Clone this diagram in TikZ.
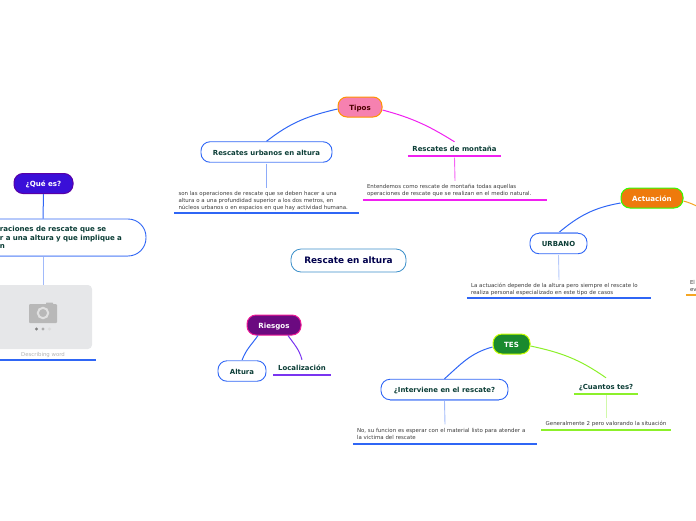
\documentclass[tikz,border=0pt]{standalone}
\usepackage{fontspec}
\setmainfont{DejaVu Sans}
\usetikzlibrary{arrows.meta,positioning,calc}
\definecolor{linkblue}{HTML}{2F66F5}
\definecolor{linkmag}{HTML}{F020F0}
\definecolor{linkorange}{HTML}{F5A623}
\definecolor{linkgreen}{HTML}{8CF02A}
\definecolor{linkpurple}{HTML}{7A35F0}
\definecolor{titleink}{HTML}{0B3D36}
\definecolor{noteink}{HTML}{3A3A3A}
\definecolor{centroline}{HTML}{3B8FC9}
\definecolor{tiposfill}{HTML}{F681B0}
\definecolor{actfill}{HTML}{EE7A0C}
\definecolor{tesfill}{HTML}{1A8A2E}
\definecolor{riesfill}{HTML}{6B0A80}
\definecolor{queesfill}{HTML}{3A0FD8}
\definecolor{fotofill}{HTML}{E6E7E9}

\begin{document}
\begin{tikzpicture}[
    x=1pt, y=-1pt,
    % --- Node styles ---
    central/.style={draw=centroline, line width=0.8pt, rounded corners=10pt, minimum width=115pt,
        minimum height=23pt, inner sep=0pt, text height=7.5pt, text depth=1.5pt, text=blue!30!black,
        font=\fontsize{8.9}{11}\selectfont\bfseries},
    mainbox/.style={draw, line width=1pt, rounded corners=9pt, minimum height=20pt, inner sep=0pt,
        text height=7.5pt, text depth=1.5pt, font=\fontsize{7.1}{9}\selectfont\bfseries},
    subbox/.style={draw=linkblue, line width=0.9pt, rounded corners=9pt, minimum height=20.5pt, inner sep=0pt,
        text height=7.5pt, text depth=1.5pt, text=titleink, font=\fontsize{6.93}{9}\selectfont\bfseries},
    subline/.style={inner sep=0pt, minimum height=15pt, text height=7.5pt, text depth=1.5pt, text=titleink,
        font=\fontsize{6.93}{9}\selectfont\bfseries},
    note/.style={inner sep=0pt, minimum width=184pt, text width=176pt, align=left, text=noteink,
        font=\fontsize{5.45}{7}\selectfont},
    % --- Edge styles ---
    link/.style={line width=1pt},
    stem/.style={line width=0.9pt},
    uline/.style={line width=1.8pt},
    edgelight/.style={line width=1.1pt, linkblue!55},
]
\clip (0,0) rectangle (696,520);

% === Central topic ===
\node[central] (centro) at (348.5,260.5) {Rescate en altura};

% === Tipos ===
\node[mainbox, draw=orange!85!yellow, fill=tiposfill, text=black!50!red!60!black, minimum width=44pt] (tipos) at (360,107) {Tipos};
\node[subbox, minimum width=131pt] (urbanos) at (266.5,152) {Rescates urbanos en altura};
\node[note, minimum height=25pt] (urbanosnota) at (266.5,200.5)
  {son las operaciones de rescate que se deben hacer a una\\
   altura o a una profundidad superior a los dos metros, en\\
   núcleos urbanos o en espacios en que hay actividad humana.};
\node[subline, minimum width=93pt] (montana) at (454.5,148.5) {Rescates de montaña};
\node[note, minimum height=19pt] (montananota) at (455,190.5)
  {Entendemos como rescate de montaña todas aquellas\\
   operaciones de rescate que se realizan en el medio natural.};

\draw[link, linkblue] (tipos.west) ++(0,2) to[out=193,in=38] (urbanos.north);
\draw[link, linkmag] (tipos.east) ++(0,3) to[out=-15,in=148] ($(montana.north)+(0,1)$);
\draw[stem, linkblue!55] (urbanos.south) ++(0,1) -- (urbanosnota.north);
\draw[stem, linkmag!70] (montana.south) ++(0,1.5) -- (montananota.north);
\draw[edgelight] ($(urbanos.south west)+(9,0)$) -- ($(urbanos.south east)+(-9,0)$);
\draw[uline, linkblue] (urbanosnota.south west) -- (urbanosnota.south east);
\draw[uline, linkmag] (montana.south west) -- (montana.south east);
\draw[uline, linkmag] (montananota.south west) -- (montananota.south east);

% === Actuacion ===
\node[mainbox, draw=green!75!lime, fill=actfill, text=white, minimum width=62pt] (actuacion) at (652,198) {Actuación};
\node[subbox, minimum width=57pt] (urbano) at (558.5,243.5) {URBANO};
\node[note, minimum height=18pt] (urbanonota) at (559,289)
  {La actuación depende de la altura pero siempre el rescate lo\\
   realiza personal especializado en este tipo de casos};
\node[note, minimum height=19pt] (evnota) at (778,285.5) {El\\ ev};
\coordinate (actfin) at (712,213);

\draw[link, linkblue] (actuacion.west) ++(0,5) to[out=190,in=40] (urbano.north);
\draw[link, linkorange] (actuacion.east) ++(0,3) to[out=-15,in=160] (actfin);
\draw[stem, linkblue!35] (urbano.south) ++(0,1) -- (urbanonota.north);
\draw[edgelight] ($(urbano.north west)+(9,0)$) -- ($(urbano.north east)+(-9,0)$);
\draw[uline, linkblue] (urbanonota.south west) -- (urbanonota.south east);
\draw[uline, linkorange] (evnota.south west) -- (evnota.south east);

% === TES ===
\node[mainbox, draw=lime!85!yellow, fill=tesfill, text=white, minimum width=37pt] (tes) at (511.5,344) {TES};
\node[subbox, minimum width=127pt] (interviene) at (444.5,389.5) {¿Interviene en el rescate?};
\node[note, minimum height=19pt] (intervienenota) at (445,434)
  {No, su funcion es esperar con el material listo para atender a\\
   la victima del rescate};
\node[subline, minimum width=64pt] (cuantos) at (606,386) {¿Cuantos tes?};
\node[note, minimum width=130pt, text width=130pt, align=center, minimum height=12pt] (cuantosnota) at (606,424)
  {Generalmente 2 pero valorando la situación};

\draw[link, linkblue] (tes.west) ++(0,3) to[out=195,in=42] (interviene.north);
\draw[link, linkgreen] (tes.east) ++(0,2) to[out=-12,in=145] ($(cuantos.north)+(0,-0.5)$);
\draw[stem, linkblue!45] (interviene.south) ++(0,1) -- (intervienenota.north);
\draw[stem, linkgreen!40] (cuantos.south) ++(0,1.5) -- (cuantosnota.north);
\draw[edgelight] ($(interviene.south west)+(9,0)$) -- ($(interviene.south east)+(-9,0)$);
\draw[uline, linkblue] (intervienenota.south west) -- (intervienenota.south east);
\draw[uline, linkgreen] (cuantos.south west) -- (cuantos.south east);
\draw[uline, linkgreen] (cuantosnota.south west) -- (cuantosnota.south east);

% === Riesgos ===
\node[mainbox, draw=magenta!90!white, fill=riesfill, text=white, minimum width=54pt] (riesgos) at (274,325) {Riesgos};
\node[subbox, minimum width=48pt] (altura) at (242,371) {Altura};
\node[subline, minimum width=57pt] (localiza) at (302,367.5) {Localización};

\draw[link, linkblue] (riesgos.south) ++(-16,0) to[out=235,in=70] (altura.north);
\draw[link, linkpurple] (riesgos.south) ++(14,0) to[out=-55,in=105] (localiza.north);
\draw[edgelight] ($(altura.north west)+(9,0)$) -- ($(altura.north east)+(-9,0)$);
\draw[uline, linkpurple] (localiza.south west) -- (localiza.south east);

% === Que es ===
\node[mainbox, draw=violet!70!blue, fill=queesfill, text=white, minimum width=59pt] (quees) at (43.5,183.5) {¿Qué es?};
\node[subbox, rounded corners=18pt, minimum width=206pt, minimum height=37pt, text width=186pt, text height=, text depth=, font=\fontsize{7.05}{9}\selectfont\bfseries] (defin) at (43,237.5)
  {\hfill\parbox{136pt}{\baselineskip=8.6pt raciones de rescate que se\\ r a una altura y que implique a\\ n}};
\node[fill=fotofill, rounded corners=4pt, minimum width=98pt, minimum height=64pt, inner sep=0pt] (foto) at (43,317) {};
\node[inner sep=0pt, minimum width=106pt, minimum height=10pt, text=black!30, font=\fontsize{5.4}{7}\selectfont] (fotopie) at (43,355) {Describing word};

% Camera icon inside the picture box
\fill[black!28, rounded corners=1pt] (29,304) rectangle (57,323);
\fill[black!28, rounded corners=0.5pt] (46,302.5) rectangle (53,305);
\draw[black!12, line width=2pt] (43,313) circle (5.2);
\fill[black!50] (36.5,329) circle (1.7);
\fill[black!32] (43,329) circle (1.7);
\fill[black!14] (49.5,329) circle (1.7);

\draw[link, linkblue] (quees.south) -- (defin.north);
\draw[stem, linkblue!45] (defin.south) ++(0,1) -- (foto.north);
\draw[edgelight] ($(defin.south west)+(18,0)$) -- ($(defin.south east)+(-18,0)$);
\draw[uline, linkblue] (fotopie.south west) -- (fotopie.south east);

\end{tikzpicture}
\end{document}
